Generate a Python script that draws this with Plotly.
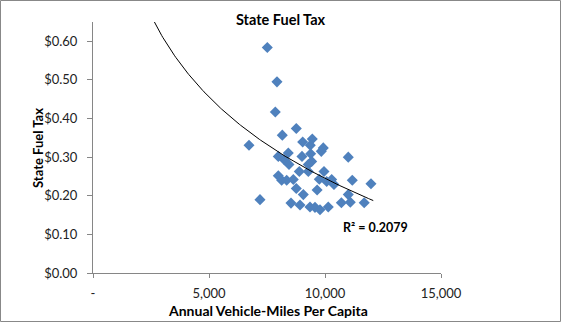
import numpy as np
import plotly.graph_objects as go

miles = [7513, 7930, 7858, 8762, 8159, 6724, 9452, 9038, 9366, 9926, 9840, 11003,
         8418, 7987, 9008, 9383, 8232, 9426, 9280, 8448, 8892, 9280, 9956, 7987,
         8132, 8348, 8634, 9754, 10072, 10288, 10387, 11176, 11982, 8762, 9065, 9660,
         11003, 7198, 8534, 8922, 9353, 9568, 9784, 10141, 10705, 11090, 11690]
tax = [0.584, 0.495, 0.417, 0.374, 0.357, 0.331, 0.347, 0.339, 0.331, 0.324, 0.315, 0.300,
       0.311, 0.302, 0.302, 0.309, 0.294, 0.289, 0.281, 0.281, 0.263, 0.263, 0.263, 0.252,
       0.240, 0.240, 0.242, 0.243, 0.237, 0.242, 0.229, 0.240, 0.231, 0.219, 0.203, 0.215,
       0.203, 0.190, 0.181, 0.176, 0.171, 0.170, 0.164, 0.171, 0.182, 0.183, 0.182]

x_ticks = [0, 5000, 10000, 15000]
x_tick_labels = ["-", "5,000", "10,000", "15,000"]
y_ticks = [0.0, 0.1, 0.2, 0.3, 0.4, 0.5, 0.6]
y_tick_labels = ["$0.00", "$0.10", "$0.20", "$0.30", "$0.40", "$0.50", "$0.60"]
r2_text = "R² = 0.2079"

# logarithmic trendline (y = c + d*ln x), coefficients
trend_c = 3.045
trend_d = -0.304
trend_x_start, trend_x_end = 2000, 12080
tx = np.linspace(trend_x_start, trend_x_end, 200)
ty = trend_c + trend_d * np.log(tx)

FONT = "Lato"
fig = go.Figure()
fig.add_trace(go.Scatter(x=miles, y=tax, mode="markers",
                         marker=dict(symbol="diamond", size=8.5, color="#4F81BD"),
                         showlegend=False, cliponaxis=False))
fig.add_trace(go.Scatter(x=tx, y=ty, mode="lines", line=dict(color="black", width=1),
                         showlegend=False))

W, H = 561, 322
l, r, t, bm = 93, 120, 22, 49
pw, ph = W - l - r, H - t - bm
fig.update_layout(
    width=W, height=H, margin=dict(l=l, r=r, t=t, b=bm, autoexpand=False),
    paper_bgcolor="white", plot_bgcolor="white",
    font=dict(family=FONT, size=13, color="#222"),
    title=dict(text="<b>State Fuel Tax</b>", x=0.5, xref="container", xanchor="center",
               y=1 - 20 / H, yref="container", yanchor="middle",
               font=dict(size=14.5, family=FONT, color="black")),
    xaxis=dict(range=[0, 15000], tickvals=x_ticks, ticktext=x_tick_labels,
               showgrid=False, zeroline=False, showline=True, linecolor="#868686",
               ticks="outside", ticklen=4, tickcolor="#868686", ticklabelstandoff=4,
               automargin=False),
    yaxis=dict(range=[0, 0.65], tickvals=y_ticks, ticktext=y_tick_labels,
               showgrid=False, zeroline=False, showline=True, linecolor="#868686",
               ticks="outside", ticklen=5, tickcolor="#868686", ticklabelstandoff=7,
               automargin=False),
    annotations=[
        dict(text="<b>" + r2_text + "</b>", x=12155, y=0.119, xref="x", yref="y",
             showarrow=False, font=dict(size=12.5, color="black")),
        dict(text="<b>Annual Vehicle-Miles Per Capita</b>", xref="paper", yref="paper",
             x=(268 - l) / pw, y=(H - bm - 310.5) / ph, xanchor="center", yanchor="middle",
             showarrow=False, font=dict(size=14, color="black")),
        dict(text="<b>State Fuel Tax</b>", xref="paper", yref="paper", textangle=-90,
             x=(38 - l) / pw, y=(H - bm - 148) / ph, xanchor="center", yanchor="middle",
             showarrow=False, font=dict(size=13, color="black")),
    ],
    shapes=[dict(type="rect", xref="paper", yref="paper",
                 x0=(-l + 0.5) / pw, x1=(W - l - 0.5) / pw,
                 y0=(-bm + 0.5) / ph, y1=(H - bm - 0.5) / ph,
                 line=dict(color="#888888", width=1))],
)
fig.write_html("out.html")
